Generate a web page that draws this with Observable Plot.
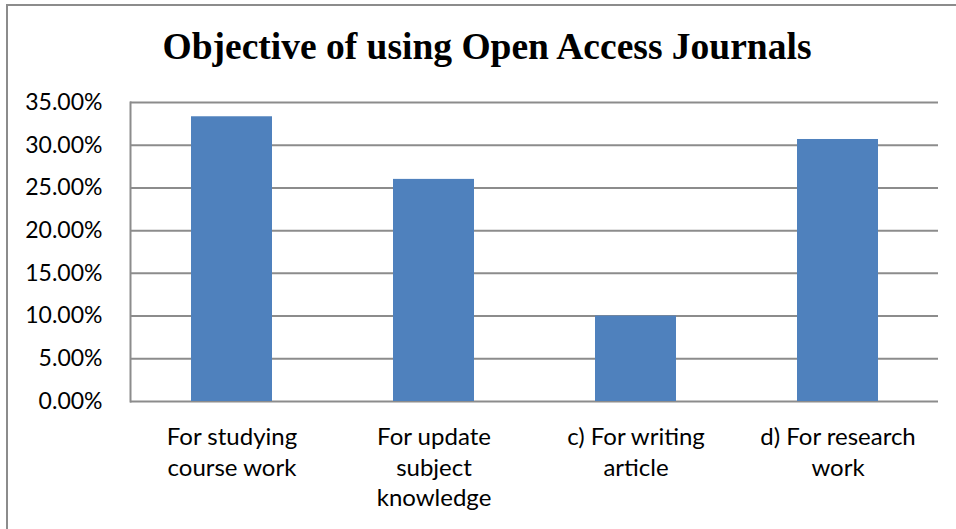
<!DOCTYPE html>
<html>
<head>
<meta charset="utf-8">
<script src="https://cdn.jsdelivr.net/npm/d3@7"></script>
<script src="https://cdn.jsdelivr.net/npm/@observablehq/plot@0.6"></script>
<style>
  html, body { margin: 0; padding: 0; background: #fff; overflow: hidden; }
  #frame { position: absolute; left: 6px; top: 4px; width: 1000px; height: 600px;
           border: 2px solid #8c8c8c; box-sizing: border-box; }
  #title { position: absolute; left: 0; top: 25px; width: 974px; text-align: center;
           font-family: "Liberation Serif", "Times New Roman", serif; font-weight: bold;
           font-size: 37.5px; color: #000; line-height: 44px; }
  #chart { position: absolute; left: 0; top: 80px; }
</style>
</head>
<body>
<div id="frame"></div>
<div id="title">Objective of using Open Access Journals</div>
<div id="chart"></div>
<script>
const categories = [
  "For studying\ncourse work",
  "For update\nsubject\nknowledge",
  "c) For writing\narticle",
  "d) For research\nwork"
];
const values = [0.3333, 0.26, 0.10, 0.3067];
const yTicks = [0, 0.05, 0.10, 0.15, 0.20, 0.25, 0.30, 0.35];

const data = categories.map((c, i) => ({category: c, value: values[i]}));

const chart = Plot.plot({
  width: 956,
  height: 449,
  marginTop: 22,
  marginLeft: 130,
  marginRight: 18,
  marginBottom: 128,
  style: {fontFamily: "Lato, 'Open Sans', sans-serif", fontSize: "23px", color: "#000", background: "transparent"},
  x: {domain: categories, paddingInner: 0.6, paddingOuter: 0.3, label: null},
  y: {domain: [0, 0.35], label: null},
  marks: [
    Plot.gridY(yTicks, {stroke: "#8c8c8c", strokeOpacity: 1, strokeWidth: 2}),
    Plot.frame({anchor: "left", stroke: "#8c8c8c", strokeWidth: 2}),
    Plot.barY(data, {x: "category", y: "value", fill: "#4f81bd"}),
    Plot.axisY(yTicks, {tickFormat: d => (d * 100).toFixed(2) + "%", tickSize: 0, tickPadding: 28, fontSize: 23}),
    Plot.axisX({tickSize: 0, tickPadding: 22, fontSize: 24, lineHeight: 1.27, textAnchor: "middle"})
  ]
});
document.getElementById("chart").appendChild(chart);
</script>
</body>
</html>
